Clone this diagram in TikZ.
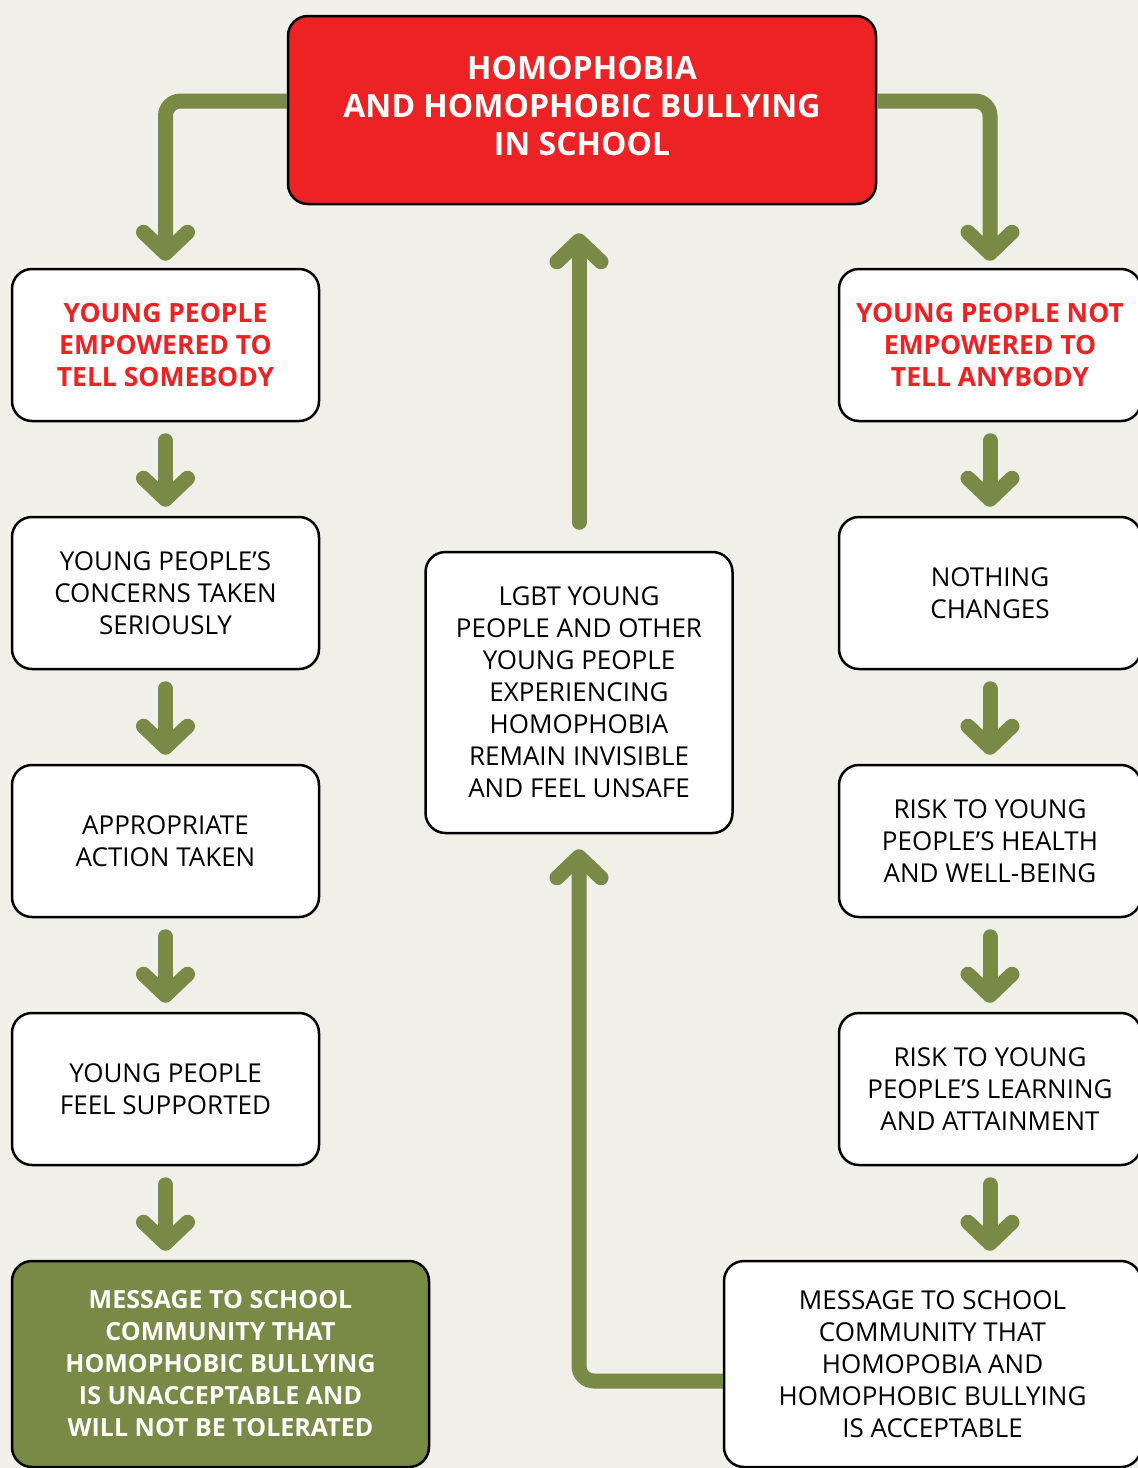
\documentclass[tikz,border=0pt]{standalone}
\usepackage{fontspec}
\setmainfont{Open Sans}
\usetikzlibrary{positioning,arrows.meta}

\definecolor{paper}{HTML}{F0EFE8}
\definecolor{leaf}{HTML}{788A45}
\definecolor{alarm}{HTML}{ED2224}

\begin{document}
\begin{tikzpicture}[x=1pt,y=-1pt,node distance=93.5pt,
    flow/.style={draw=leaf,line width=15pt,line cap=round,rounded corners=15pt,
      -{Straight Barb[length=21pt,width=44pt,round]},shorten >=9pt},
    box/.style={draw,line width=2.5pt,rounded corners=20pt,fill=white,align=center,
      minimum width=307pt,minimum height=152pt,font=\fontsize{26}{32}\selectfont},
    alert box/.style={box,text=alarm,font=\fontsize{26.5}{32}\selectfont\bfseries},
    big box/.style={box,minimum width=417pt,minimum height=206pt}]

\useasboundingbox (0,0) rectangle (1138,1468);
\fill[paper] (0,0) rectangle (1138,1468);
\clip (0,0) rectangle (1138,1468);

\node[box,fill=alarm,text=white,minimum width=588pt,minimum height=188pt,
  font=\fontsize{32}{38}\selectfont\bfseries] (0) at (582,110)
  {HOMOPHOBIA\\AND HOMOPHOBIC BULLYING\\IN SCHOOL\vphantom{g}};

% left side
\node[alert box] (1) at (165.5,345) {YOUNG PEOPLE\\EMPOWERED TO\\TELL SOMEBODY};
\node[box] (2) [below=of 1] {YOUNG PEOPLE’S\\CONCERNS TAKEN\\SERIOUSLY};
\node[box] (3) [below=of 2] {APPROPRIATE\\ACTION TAKEN};
\node[box] (4) [below=of 3] {YOUNG PEOPLE\\FEEL SUPPORTED};
\node[big box,fill=leaf,text=white,font=\fontsize{25}{32}\selectfont\bfseries] (5)
  [below=of 4.south west,anchor=north west]
  {MESSAGE TO SCHOOL\\COMMUNITY THAT\\HOMOPHOBIC BULLYING\\IS UNACCEPTABLE AND\\WILL NOT BE TOLERATED};

% right side
\node[alert box,minimum width=302pt] (6) at (990,345) {YOUNG PEOPLE NOT\\EMPOWERED TO\\TELL ANYBODY};
\node[box,minimum width=302pt] (7) [below=of 6] {NOTHING\\CHANGES};
\node[box,minimum width=302pt] (8) [below=of 7] {RISK TO YOUNG\\PEOPLE’S HEALTH\\AND WELL-BEING};
\node[box,minimum width=302pt] (9) [below=of 8] {RISK TO YOUNG\\PEOPLE’S LEARNING\\AND ATTAINMENT};
\node[big box] (10) [below=of 9.south east,anchor=north east]
  {MESSAGE TO SCHOOL\\COMMUNITY THAT\\HOMOPOBIA AND\\HOMOPHOBIC BULLYING\\IS ACCEPTABLE};

% middle
\node[box,minimum height=281pt] (11) at (579,692.5)
  {LGBT YOUNG\\PEOPLE AND OTHER\\YOUNG PEOPLE\\EXPERIENCING\\HOMOPHOBIA\\REMAIN INVISIBLE\\AND FEEL UNSAFE};

\draw[flow,line cap=butt,shorten >=7pt] ([yshift=9pt]0.west) -| (1);
\draw[flow,line cap=butt,shorten >=7pt] ([yshift=9pt]0.east) -| (6);

\foreach \a/\b in {1/2,2/3,3/4,4/5,6/7,7/8,8/9,9/10}
  \draw[flow,shorten <=18.5pt] (\a.south) -- (\a.south |- \b.north);

\draw[flow,shorten <=28.5pt,shorten >=28pt] (11.north) -- (11.north |- 0.south);
\draw[flow,line cap=butt,shorten >=15pt] ([yshift=-17pt]10.west) -| (11.south);

\end{tikzpicture}
\end{document}
